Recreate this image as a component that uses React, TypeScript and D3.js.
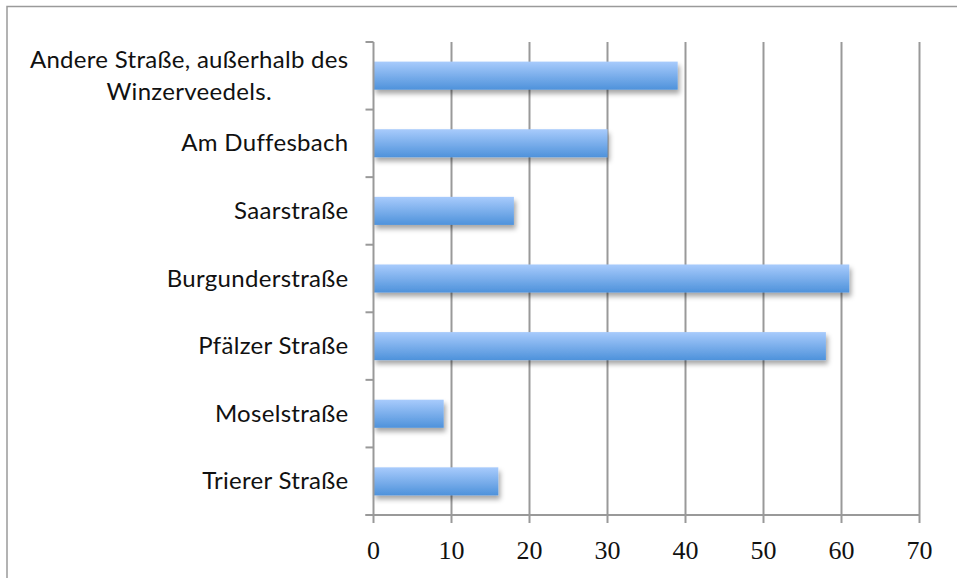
import React, { useEffect, useRef } from 'react';
import * as d3 from 'd3';

const categories: string[][] = [
  ['Andere Straße, außerhalb des', 'Winzerveedels.'],
  ['Am Duffesbach'],
  ['Saarstraße'],
  ['Burgunderstraße'],
  ['Pfälzer Straße'],
  ['Moselstraße'],
  ['Trierer Straße'],
];
const values: number[] = [39, 30, 18, 61, 58, 9, 16];
const xTicks: number[] = [0, 10, 20, 30, 40, 50, 60, 70];

const labelFont = 'Lato, "Open Sans", sans-serif';

const App: React.FC = () => {
  const svgRef = useRef<SVGSVGElement>(null);

  useEffect(() => {
    if (!svgRef.current) return;
    const svg = d3.select(svgRef.current);
    svg.selectAll('*').remove();

    const W = 957;
    const H = 578;
    const margin = { top: 42, right: 37.5, bottom: 63, left: 373.5 };
    const width = W - margin.left - margin.right;
    const height = H - margin.top - margin.bottom;

    svg.attr('width', W).attr('height', H);

    const defs = svg.append('defs');
    const grad = defs
      .append('linearGradient')
      .attr('id', 'barGrad')
      .attr('x1', 0).attr('y1', 0).attr('x2', 0).attr('y2', 1);
    grad.append('stop').attr('offset', '0%').attr('stop-color', '#a8cbfc');
    grad.append('stop').attr('offset', '100%').attr('stop-color', '#4e92db');

    const shadow = defs
      .append('filter')
      .attr('id', 'shadow')
      .attr('x', '-10%').attr('y', '-30%')
      .attr('width', '130%').attr('height', '180%');
    shadow
      .append('feDropShadow')
      .attr('dx', 2).attr('dy', 4)
      .attr('stdDeviation', 2.5)
      .attr('flood-color', '#000')
      .attr('flood-opacity', 0.35);

    // chart border (only top and left fall inside the picture)
    svg.append('rect')
      .attr('x', 7).attr('y', 6.5)
      .attr('width', W + 10).attr('height', H + 10)
      .attr('fill', 'white')
      .attr('stroke', '#9a9a9a')
      .attr('stroke-width', 1.5);

    const g = svg.append('g').attr('transform', `translate(${margin.left},${margin.top})`);

    const x = d3.scaleLinear().domain([0, 70]).range([0, width]);
    const y = d3
      .scaleBand<number>()
      .domain(d3.range(categories.length))
      .range([0, height])
      .paddingInner(0.585)
      .paddingOuter(0.29);
    const band = d3.scaleBand<number>().domain(d3.range(categories.length)).range([0, height]);

    // gridlines
    g.selectAll('.grid')
      .data(xTicks.slice(1))
      .enter()
      .append('line')
      .attr('x1', d => x(d)).attr('x2', d => x(d))
      .attr('y1', 0).attr('y2', height + 8)
      .attr('stroke', '#999')
      .attr('stroke-width', 2);

    // bars
    g.selectAll('.bar')
      .data(values)
      .enter()
      .append('rect')
      .attr('x', x(0))
      .attr('y', (d, i) => y(i) as number)
      .attr('width', d => x(d) - x(0))
      .attr('height', y.bandwidth())
      .attr('fill', 'url(#barGrad)')
      .attr('filter', 'url(#shadow)');

    // y axis line and ticks
    g.append('line')
      .attr('x1', 0).attr('x2', 0)
      .attr('y1', 0).attr('y2', height + 8)
      .attr('stroke', '#999').attr('stroke-width', 2);
    const yTickPos = d3.range(categories.length + 1).map(i => i * band.step());
    g.selectAll('.ytick')
      .data(yTickPos)
      .enter()
      .append('line')
      .attr('x1', -8).attr('x2', 0)
      .attr('y1', d => d).attr('y2', d => d)
      .attr('stroke', '#999').attr('stroke-width', 2);

    // x axis line
    g.append('line')
      .attr('x1', -8).attr('x2', width)
      .attr('y1', height).attr('y2', height)
      .attr('stroke', '#999').attr('stroke-width', 2);

    // x tick labels
    g.selectAll('.xlabel')
      .data(xTicks)
      .enter()
      .append('text')
      .attr('x', d => x(d))
      .attr('y', height + 44)
      .attr('text-anchor', 'middle')
      .style('font-family', '"Liberation Serif", serif')
      .style('font-size', '26px')
      .style('fill', '#111')
      .text(d => d);

    // category labels
    const labelRight = -25;
    const fs = '24px';
    const ls = '0.3px';
    categories.forEach((lines, i) => {
      const cy = (band(i) as number) + band.bandwidth() / 2;
      const lh = 31.5;
      const t = g.append('text')
        .style('font-family', labelFont)
        .style('font-size', fs)
        .style('letter-spacing', ls)
        .style('fill', '#111');
      if (lines.length === 1) {
        t.append('tspan')
          .attr('x', labelRight)
          .attr('y', cy + 8)
          .attr('text-anchor', 'end')
          .text(lines[0]);
      } else {
        const tmp = g.append('text')
          .style('font-family', labelFont)
          .style('font-size', fs)
          .style('letter-spacing', ls)
          .text(lines[0]);
        const w = (tmp.node() as SVGTextElement).getComputedTextLength();
        tmp.remove();
        const center = labelRight - w / 2;
        lines.forEach((ln, j) => {
          t.append('tspan')
            .attr('x', center)
            .attr('y', cy + 8 + (j - (lines.length - 1) / 2) * lh)
            .attr('text-anchor', 'middle')
            .text(ln);
        });
      }
    });
  }, []);

  return (
    <div style={{ position: 'fixed', left: 0, top: 0 }}>
      <svg ref={svgRef} style={{ display: 'block' }}></svg>
    </div>
  );
};

export default App;
